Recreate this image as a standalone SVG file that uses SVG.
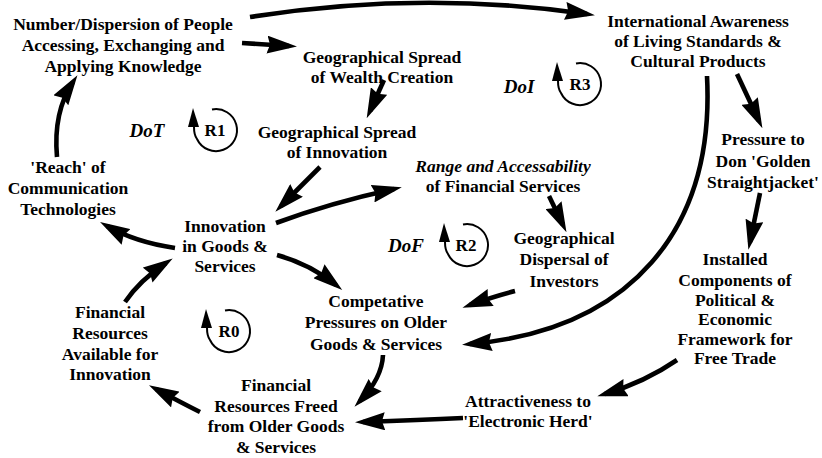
<svg xmlns="http://www.w3.org/2000/svg" xmlns:xlink="http://www.w3.org/1999/xlink" width="822" height="458" viewBox="0 0 822 458">
  <style>
    .node text { font-family: "Liberation Serif", "Times New Roman", serif; font-weight: bold; font-size: 17.5px; fill: #000; text-anchor: middle; }
    .it { font-style: italic; }
    .conn path { fill: none; stroke: #000; stroke-width: 4.6; stroke-linecap: butt; marker-end: url(#ah); }
    .loop text { font-family: "Liberation Serif", "Times New Roman", serif; font-weight: bold; font-size: 17px; fill: #000; text-anchor: middle; }
    .loop .tag { font-style: italic; font-size: 19px; }
    .ring { fill: none; stroke: #000; stroke-width: 2; }
  </style>
  <defs>
    <marker id="ah" viewBox="0 0 30 18" refX="22" refY="9" markerWidth="30" markerHeight="18" markerUnits="userSpaceOnUse" orient="auto">
      <path d="M0,0 L30,9 L0,18 L3,9 z" fill="#000"/>
    </marker>
    <!-- circular loop symbol with an upward arrow on its left side -->
    <g id="loopSym">
      <path class="ring" d="M -4 -20.5 A 21 21 0 1 1 -19 9 Q -22 5 -22 -3"/>
      <polygon points="-23,-22 -28,-3 -17,-3" fill="#000"/>
    </g>
  </defs>
  <rect width="822" height="458" fill="#fff"/>

  <g class="conn" id="connectors">
    <path d="M 250 17 Q 420 -10 587 14"/>
    <path d="M 242 43 L 289 46"/>
    <path d="M 384 80 L 370 111"/>
    <path d="M 320 167 L 281 206"/>
    <path d="M 276 223 Q 330 203 394 189"/>
    <path d="M 549 196 L 563 225"/>
    <path d="M 515 291 Q 495 296 470 305"/>
    <path d="M 277 255 Q 310 264 336 285"/>
    <path d="M 175 248 Q 135 242 107 226"/>
    <path d="M 125 302 Q 140 280 166 263"/>
    <path d="M 57 157 Q 53 112 73 82"/>
    <path d="M 737 74 L 759 121"/>
    <path d="M 707 76 C 715 230 630 330 470 344"/>
    <path d="M 760 193 L 750 242"/>
    <path d="M 677 360 Q 645 382 605 394"/>
    <path d="M 463 418 Q 420 420 363 422"/>
    <path d="M 383 355 Q 382 378 360 401"/>
    <path d="M 200 412 Q 180 402 156 389"/>
  </g>

  <g class="node" id="people-knowledge">
    <text><tspan x="123" y="29.5">Number/Dispersion of People</tspan><tspan x="123" y="50.5">Accessing, Exchanging and</tspan><tspan x="123" y="71.5">Applying Knowledge</tspan></text>
  </g>
  <g class="node" id="wealth-spread">
    <text><tspan x="382" y="63">Geographical Spread</tspan><tspan x="382" y="83">of Wealth Creation</tspan></text>
  </g>
  <g class="node" id="intl-awareness">
    <text><tspan x="698" y="27">International Awareness</tspan><tspan x="698" y="47">of Living Standards &amp;</tspan><tspan x="698" y="67">Cultural Products</tspan></text>
  </g>
  <g class="node" id="innovation-spread">
    <text><tspan x="337" y="138">Geographical Spread</tspan><tspan x="337" y="158">of Innovation</tspan></text>
  </g>
  <g class="node" id="comm-reach">
    <text><tspan x="68" y="173">'Reach' of</tspan><tspan x="68" y="194">Communication</tspan><tspan x="68" y="215">Technologies</tspan></text>
  </g>
  <g class="node" id="innovation">
    <text><tspan x="225" y="232">Innovation</tspan><tspan x="225" y="252">in Goods &amp;</tspan><tspan x="225" y="272">Services</tspan></text>
  </g>
  <g class="node" id="financial-services">
    <text><tspan class="it" x="503" y="172">Range and Accessability</tspan><tspan x="503" y="192">of Financial Services</tspan></text>
  </g>
  <g class="node" id="golden-straightjacket">
    <text><tspan x="763" y="145">Pressure to</tspan><tspan x="763" y="167">Don 'Golden</tspan><tspan x="763" y="188">Straightjacket'</tspan></text>
  </g>
  <g class="node" id="investors">
    <text><tspan x="564" y="244">Geographical</tspan><tspan x="564" y="265">Dispersal of</tspan><tspan x="564" y="287">Investors</tspan></text>
  </g>
  <g class="node" id="competitive-pressures">
    <text><tspan x="376" y="307">Competative</tspan><tspan x="376" y="328">Pressures on Older</tspan><tspan x="376" y="350">Goods &amp; Services</tspan></text>
  </g>
  <g class="node" id="free-trade">
    <text><tspan x="735" y="265">Installed</tspan><tspan x="735" y="285.5">Components of</tspan><tspan x="735" y="305.5">Political &amp;</tspan><tspan x="735" y="325">Economic</tspan><tspan x="735" y="345">Framework for</tspan><tspan x="735" y="364">Free Trade</tspan></text>
  </g>
  <g class="node" id="funds-available">
    <text><tspan x="110" y="318">Financial</tspan><tspan x="110" y="339">Resources</tspan><tspan x="110" y="360">Available for</tspan><tspan x="110" y="380">Innovation</tspan></text>
  </g>
  <g class="node" id="funds-freed">
    <text><tspan x="276" y="391">Financial</tspan><tspan x="276" y="412">Resources Freed</tspan><tspan x="276" y="432">from Older Goods</tspan><tspan x="276" y="453">&amp; Services</tspan></text>
  </g>
  <g class="node" id="electronic-herd">
    <text><tspan x="528" y="407">Attractiveness to</tspan><tspan x="528" y="427">'Electronic Herd'</tspan></text>
  </g>

  <g class="loop" id="loop-r1">
    <text class="tag" x="147" y="137">DoT</text>
    <use xlink:href="#loopSym" transform="translate(216,130)"/>
    <text x="215" y="136">R1</text>
  </g>
  <g class="loop" id="loop-r3">
    <text class="tag" x="519" y="93">DoI</text>
    <use xlink:href="#loopSym" transform="translate(580,84)"/>
    <text x="580" y="90">R3</text>
  </g>
  <g class="loop" id="loop-r2">
    <text class="tag" x="406" y="252">DoF</text>
    <use xlink:href="#loopSym" transform="translate(467,245)"/>
    <text x="466" y="251">R2</text>
  </g>
  <g class="loop" id="loop-r0">
    <use xlink:href="#loopSym" transform="translate(229,331)"/>
    <text x="229" y="337">R0</text>
  </g>
</svg>
